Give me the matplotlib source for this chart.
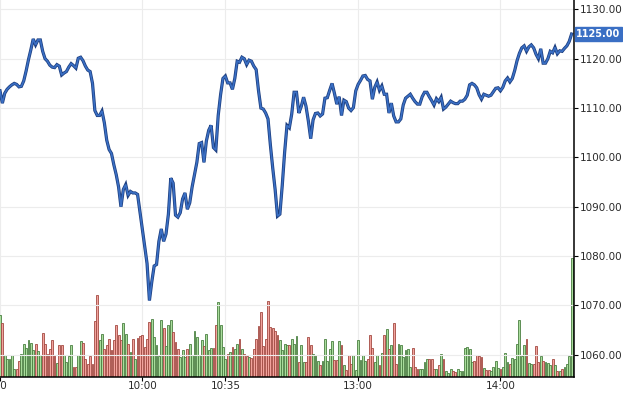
import matplotlib
matplotlib.use("Agg")
import matplotlib.pyplot as plt
import matplotlib.transforms as mtransforms

# one value per minute, 09:00-11:30 then 13:00-14:31
price = [
    1113.5, 1111.0, 1113.0, 1113.8, 1114.3, 1114.7, 1115.0, 1114.8, 1114.3, 1114.4,
    1115.5, 1117.5, 1119.8, 1121.8, 1124.0, 1122.8, 1123.8, 1123.8, 1121.5, 1120.0,
    1119.5, 1118.7, 1118.3, 1118.2, 1118.8, 1118.5, 1116.7, 1117.1, 1117.4, 1118.3,
    1119.0, 1118.6, 1118.1, 1120.1, 1120.3, 1119.6, 1118.5, 1117.7, 1117.4, 1115.0,
    1109.5, 1108.5, 1108.5, 1109.4, 1107.0, 1103.5, 1101.6, 1100.8, 1098.5, 1096.5,
    1094.0, 1090.0, 1093.5, 1094.5, 1092.3, 1093.1, 1092.8, 1092.8, 1092.5, 1089.0,
    1085.5, 1082.0, 1078.5, 1071.0, 1074.8, 1078.0, 1078.3, 1083.0, 1085.5, 1083.0,
    1084.5, 1088.5, 1095.8, 1094.8, 1088.3, 1087.9, 1088.8, 1091.6, 1092.8, 1089.5,
    1090.8, 1094.0, 1096.5, 1099.0, 1102.8, 1103.0, 1099.0, 1103.3, 1105.5, 1106.5,
    1102.0, 1101.5, 1108.5, 1112.7, 1116.0, 1116.5, 1115.1, 1115.1, 1113.8, 1116.0,
    1119.5, 1119.3, 1120.3, 1120.0, 1118.8, 1119.7, 1119.5, 1118.5, 1117.8, 1113.5,
    1110.0, 1109.8, 1109.0, 1107.8, 1102.5, 1097.8, 1093.5, 1088.1, 1088.5, 1094.3,
    1101.0, 1106.5, 1106.0, 1108.8, 1113.2, 1113.2, 1109.0, 1110.3, 1112.2, 1110.4,
    1107.4, 1103.8, 1107.6, 1108.9, 1109.0, 1108.4, 1108.8, 1112.0, 1112.1, 1113.6,
    1115.0, 1113.0, 1110.8, 1112.3, 1108.5, 1111.6, 1111.3, 1110.0, 1109.5, 1110.1,
    1113.5, 1114.8, 1115.6, 1116.5, 1116.6, 1115.8, 1115.5, 1111.8, 1114.2, 1115.3,
    1113.6, 1114.5, 1112.8, 1112.8, 1109.0, 1111.0, 1108.4, 1107.2, 1107.2, 1107.8,
    1110.6, 1112.0, 1112.4, 1112.8, 1112.0, 1111.3, 1110.8, 1110.8, 1112.3, 1113.2,
    1113.2, 1112.3, 1111.5, 1110.6, 1111.9, 1111.3, 1112.2, 1109.8, 1110.2, 1110.8,
    1111.4, 1111.1, 1110.9, 1110.9, 1111.4, 1111.4, 1111.8, 1112.6, 1114.7, 1115.0,
    1114.7, 1114.1, 1112.7, 1111.8, 1112.8, 1112.6, 1112.4, 1112.6, 1113.3, 1114.0,
    1114.1, 1113.5, 1114.2, 1115.5, 1116.1, 1115.3, 1116.0, 1117.6, 1119.6, 1121.1,
    1122.2, 1122.6, 1121.5, 1122.4, 1122.8, 1122.2, 1120.9, 1120.0, 1122.0, 1119.1,
    1119.1, 1120.0, 1121.5, 1121.2, 1122.3, 1121.0, 1121.6, 1121.5, 1122.1, 1122.6,
    1123.5, 1125.0,
]

volume = [
    62, 54, 22, 18, 18, 22, 8, 8, 16, 23, 33, 29, 37, 34, 27, 33, 26, 22, 44, 33,
    23, 28, 37, 22, 14, 32, 32, 22, 15, 21, 32, 10, 10, 22, 36, 34, 18, 13, 21, 13,
    56, 82, 37, 43, 28, 32, 38, 27, 37, 52, 42, 37, 54, 43, 33, 25, 38, 18, 39, 41,
    42,
    30, 38, 55, 58, 40, 32, 21, 57, 49, 31, 52, 57, 45, 35, 28, 20, 27, 20, 28, 33,
    22, 46, 40, 22, 37, 31, 43, 27, 29, 29, 52, 75, 52, 30, 18, 23, 25, 30, 28, 33,
    38, 28, 23, 21, 20, 19, 28, 38, 51, 65, 31, 38, 76, 50, 49, 46, 42, 37, 27, 33,
    32,
    32, 38, 33, 41, 15, 32, 15, 15, 40, 32, 23, 22, 16, 12, 16, 38, 16, 28, 36, 17,
    17, 36, 32, 12, 7, 22, 13, 22, 7, 37, 17, 22, 16, 18, 42, 29, 15, 22, 12, 24,
    42, 48, 28, 32, 54, 13, 33, 32, 20, 27, 28, 10, 29, 10, 8, 8, 8, 15, 18, 18,
    18,
    8, 8, 12, 23, 18, 6, 4, 8, 6, 5, 8, 6, 6, 29, 30, 28, 15, 16, 22, 21,
    20, 9, 7, 7, 6, 10, 16, 9, 8, 10, 24, 15, 13, 19, 18, 33, 57, 21, 32, 38,
    14, 13, 13, 31, 15, 21, 16, 15, 14, 12, 18, 12, 6, 6, 8, 10, 13, 21, 119,
]

tick_pos = [0, 60, 95, 151, 211]
tick_labels = ["09:00", "10:00", "10:35", "13:00", "14:00"]
price_ticks = [1060, 1070, 1080, 1090, 1100, 1110, 1120, 1130]
last_price = price[-1]

LINE = "#3a6fc4"
LINE_EDGE = "#1d3f80"
GRID = "#ececec"
TXT = "#2a2a2a"

fig = plt.figure(figsize=(6.23, 3.96), dpi=100)
ax_vol = fig.add_axes([0.0, 0.048, 0.9213, 0.952])
ax = ax_vol.twinx()
ax.set_zorder(ax_vol.get_zorder() + 1)
ax.patch.set_visible(False)

x = list(range(len(price)))

# volume bars, coloured by the minute's move
fills, edges = [], []
for i in x:
    up = i == 0 or price[i] >= price[i - 1]
    fills.append("#a9dd9c" if up else "#f2a39d")
    edges.append("#4a7f41" if up else "#a24a42")
ax_vol.bar(x, volume, width=0.78, color=fills, edgecolor=edges, linewidth=0.6)
ax_vol.set_ylim(0, 377)
ax_vol.set_yticks([])
ax_vol.set_xlim(0, 242)
ax_vol.set_xticks(tick_pos)
ax_vol.set_xticklabels(tick_labels, fontsize=7.5, color=TXT)
ax_vol.tick_params(axis="x", length=3, width=0.8, pad=0)
ax_vol.grid(axis="x", color=GRID, linewidth=0.8)
ax_vol.set_axisbelow(True)
for s in ["left", "top", "right"]:
    ax_vol.spines[s].set_visible(False)
ax_vol.spines["bottom"].set_linewidth(1.1)

# the first label sits half outside the chart
first = ax_vol.get_xticklabels()[0]
first.set_transform(first.get_transform() + mtransforms.ScaledTranslation(-8 / 100, 0, fig.dpi_scale_trans))

# price line with a dark outline
ax.plot(x, price, color=LINE_EDGE, linewidth=2.3, solid_joinstyle="miter")
ax.plot(x, price, color=LINE, linewidth=1.2, solid_joinstyle="miter")
ax.set_ylim(1055.5, 1131.9)
ax.set_yticks(price_ticks)
ax.set_yticklabels([f"{v:.2f}" for v in price_ticks], fontsize=7.5, color=TXT)
ax.tick_params(axis="y", length=3, width=0.8, pad=1.5)
ax.grid(axis="y", color=GRID, linewidth=0.8)
for s in ["left", "top", "bottom"]:
    ax.spines[s].set_visible(False)
ax.spines["right"].set_linewidth(1.1)

# last price tag on the axis
trans = mtransforms.blended_transform_factory(ax.transAxes, ax.transData)
ax.text(1.004, last_price, f"{last_price:.2f}", transform=trans, ha="left", va="center",
        fontsize=7, fontweight="bold", color="white", clip_on=False,
        bbox=dict(boxstyle="square,pad=0.18", facecolor="#3a6fc4", edgecolor="#3a6fc4"))

fig.savefig("out.png", dpi=100)
